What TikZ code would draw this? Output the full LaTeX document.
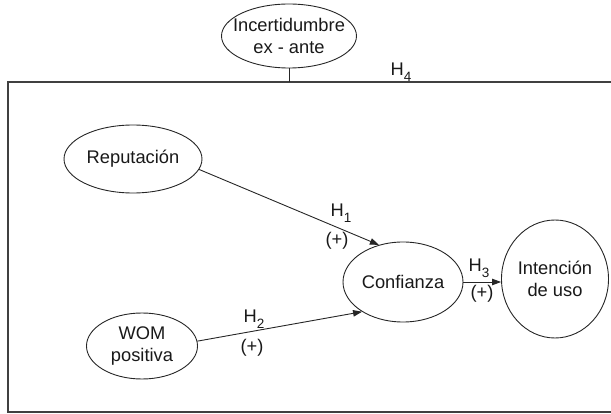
\documentclass[tikz,border=0pt]{standalone}
\usepackage{fontspec}
\setmainfont{Liberation Sans}
\usetikzlibrary{shapes.geometric,arrows.meta}
\newcommand{\Hyp}[1]{H\raisebox{-0.35em}{\fontsize{13.5}{13.5}\selectfont #1}}
\begin{document}
\begin{tikzpicture}[x=1pt,y=-1pt,
  every node/.style={font=\fontsize{18.3}{22}\selectfont, text=black!90},
  construct/.style={ellipse, draw=black!85, line width=0.9pt, inner ysep=0pt, inner xsep=-15pt, align=center},
  link/.style={draw=black!85, line width=0.9pt, -{Triangle[length=9pt,width=6.5pt]}},
  frame/.style={draw=black!75, line width=1.4pt},
  lbl/.style={inner sep=0pt}]
\useasboundingbox (0,0) rectangle (611,414);
\node[construct, minimum width=135pt, minimum height=64pt] (inc) at (289,36) {Incertidumbre\\ex - ante};
\node[construct, minimum width=138pt, minimum height=68pt] (rep) at (133,159) {Reputación};
\node[construct, minimum width=111pt, minimum height=66pt] (wom) at (142,346) {WOM\\positiva};
\node[construct, minimum width=120pt, minimum height=80pt] (conf) at (403,282) {Confianza};
\node[construct, minimum width=107pt, minimum height=118pt] (int) at (555,279) {Intención\\de uso};
% frame
\coordinate (tl) at (8,82);
\coordinate (tr) at (612,82);
\coordinate (bl) at (8,412);
\coordinate (br) at (612,412);
\draw[frame] (tr) -- (tl) -- (bl) -- (br);
\draw[draw=black!85, line width=0.9pt] (inc.south) -- (inc.south |- tl);
\node[lbl] (h4) at (401,72) {\Hyp{4}};
% arrows
\draw[link] (rep.-9) -- (conf.123);
\draw[link] (wom.5) -- (conf.216);
\draw[link] (conf.east) -- (conf.east -| int.west);
\node[lbl] (h1) at (341,213) {\Hyp{1}};
\node[lbl] (p1) at (337,241) {(+)};
\node[lbl] (h2) at (254,319) {\Hyp{2}};
\node[lbl] (p2) at (252,348) {(+)};
\node[lbl] (h3) at (479,268) {\Hyp{3}};
\node[lbl] (p3) at (482,294) {(+)};
\end{tikzpicture}
\end{document}
